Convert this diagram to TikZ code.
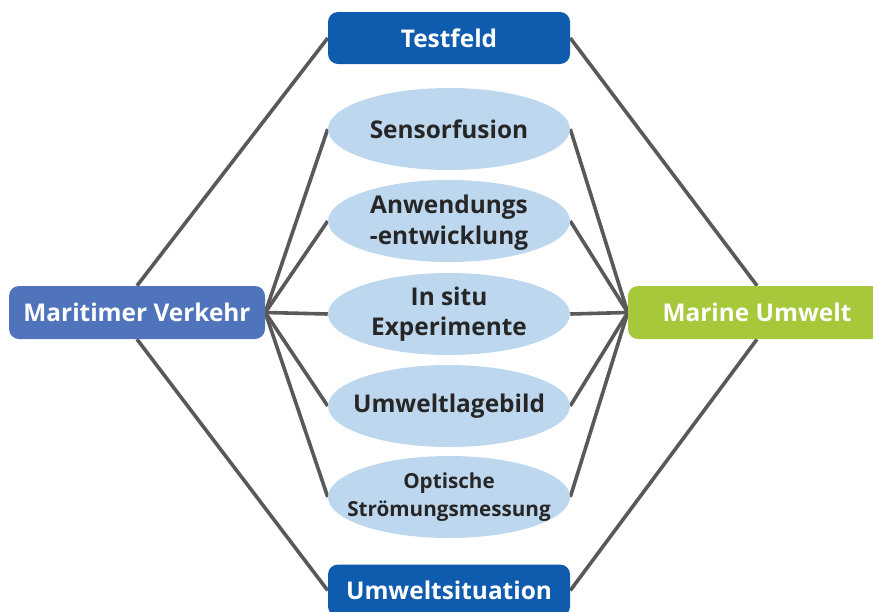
\documentclass[tikz,border=0pt]{standalone}
\usepackage{fontspec}
\setmainfont{Open Sans}
\usetikzlibrary{shapes.geometric,backgrounds}
\definecolor{darkblue}{HTML}{0F5BAE}
\definecolor{midblue}{HTML}{5074BC}
\definecolor{leafgreen}{HTML}{A6C83A}
\definecolor{paleblue}{HTML}{BDD7EE}
\definecolor{linegray}{HTML}{595959}
\definecolor{textdark}{HTML}{262626}
\tikzset{
  boxnode/.style={rectangle, rounded corners=7.5pt, draw=none, text=white,
    font=\fontsize{18.3}{22}\selectfont\bfseries, inner sep=0pt},
  ovalnode/.style={ellipse, fill=paleblue, draw=none,
    minimum width=181.5pt, minimum height=61.5pt, inner sep=0pt},
  ovaltext/.style={text=textdark, inner sep=0pt, align=center,
    font=\fontsize{18.3}{23}\selectfont\bfseries},
  smalltext/.style={font=\fontsize{15.5}{21}\selectfont\bfseries},
  link/.style={draw=linegray, line width=2.7pt}
}
\begin{document}
\begin{tikzpicture}[x=0.75pt, y=-0.75pt]
\useasboundingbox (0,0) rectangle (873,611);
\clip (0,0) rectangle (873,611);
\node[boxnode, fill=midblue, minimum width=192pt, minimum height=39.75pt] (mv) at (137,312.5) {Maritimer Verkehr};
\node[boxnode, fill=leafgreen, minimum width=193.5pt, minimum height=39.75pt] (mu) at (757,312.5) {Marine Umwelt};
\node[boxnode, fill=darkblue, minimum width=181.5pt, minimum height=39pt] (tf) at (449,38) {Testfeld};
\node[boxnode, fill=darkblue, minimum width=181.5pt, minimum height=39pt] (us) at (449,590.5) {Umweltsituation};
\node[ovalnode] (e1) at (449,129) {};
\node[ovalnode] (e2) at (449,221) {};
\node[ovalnode] (e3) at (449,314) {};
\node[ovalnode] (e4) at (449,406) {};
\node[ovalnode] (e5) at (449,497) {};
\node[ovaltext] (t1) at (e1) {Sensorfusion};
\node[ovaltext] (t2) at ([yshift=-1pt]e2) {Anwendungs\\-entwicklung};
\node[ovaltext] (t3) at (e3) {In situ\\Experimente};
\node[ovaltext] (t4) at (e4) {Umweltlagebild};
\node[ovaltext, smalltext] (t5) at (e5) {Optische\\Strömungsmessung};
\begin{scope}[on background layer]
\draw[link] (mv.north) -- (tf.west);
\draw[link] (mv.south) -- (us.west);
\draw[link] (mu.north) -- (tf.east);
\draw[link] (mu.south) -- (us.east);
\foreach \e in {e1,e2,e3,e4,e5} {
  \draw[link] (mv.east) -- (\e.west);
  \draw[link] (mu.west) -- (\e.east);
}
\end{scope}
\end{tikzpicture}
\end{document}
